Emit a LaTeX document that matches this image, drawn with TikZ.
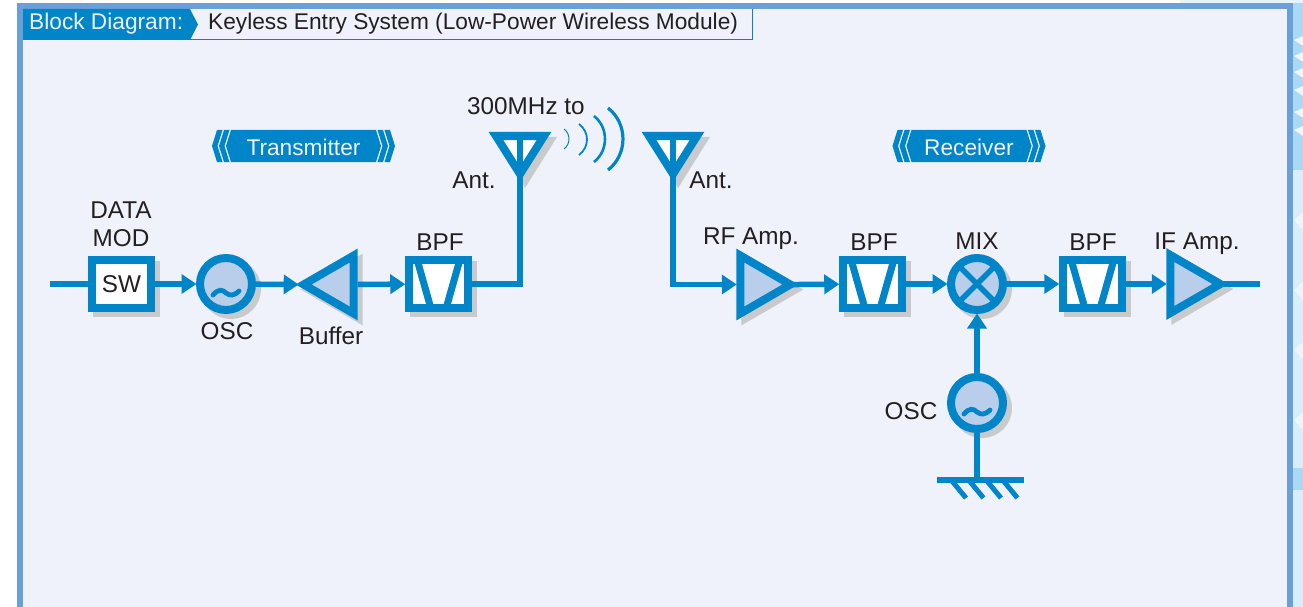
\documentclass[tikz,border=0pt]{standalone}
\usepackage{fontspec}
\setmainfont{Liberation Sans}
\usetikzlibrary{arrows.meta,positioning,calc,shapes.geometric,shadows}

\definecolor{wireblue}{HTML}{0085C8}
\definecolor{framecol}{HTML}{6AA0DA}
\definecolor{panelcol}{HTML}{EFF2FB}
\definecolor{fillcol}{HTML}{B8CEEB}
\definecolor{shadecol}{HTML}{C8CACC}
\definecolor{stripcol}{HTML}{A9D9F5}
\definecolor{inkcol}{HTML}{231F20}

\tikzset{
 lbl/.style={text=inkcol,font=\fontsize{24.3}{28}\selectfont,inner sep=0pt,align=center},
 headlbl/.style={lbl,font=\fontsize{22.7}{26.5}\selectfont},
 wire/.style={draw=wireblue,line width=5.5pt},
 feed/.style={wire,-{Triangle[length=15pt,width=19pt]},shorten >=-0.5pt},
 softshade/.style={general shadow={shadow xshift=5pt,shadow yshift=-5pt,fill=shadecol,draw=shadecol}},
 swbox/.style={draw=wireblue,line width=8pt,fill=white,rectangle,minimum width=59.5pt,minimum height=48.5pt,inner sep=0pt,softshade},
 bpfbox/.style={swbox,path picture={
   \draw[wireblue,line width=7pt,shift={(path picture bounding box.center)}]
    (-23,-30)--(-6,30) (23,-30)--(6,30);}},
 oscball/.style={circle,draw=wireblue,line width=8pt,fill=fillcol,minimum size=52pt,inner sep=0pt,softshade,path picture={
   \draw[wireblue,line width=4.8pt,line cap=round,shift={(path picture bounding box.center)}]
    (-13,11) .. controls (-7,4) and (-3,6) .. (0,9) .. controls (4,12) and (8,12) .. (13,7);}},
 mixball/.style={circle,draw=wireblue,line width=8pt,fill=fillcol,minimum size=52pt,inner sep=0pt,softshade,path picture={
   \draw[wireblue,line width=5.5pt,shift={(path picture bounding box.center)}]
    (-22,-22)--(22,22) (-22,22)--(22,-22);}},
 amp/.style={isosceles triangle,isosceles triangle apex angle=60,isosceles triangle stretches,draw=wireblue,line width=8pt,
   fill=fillcol,minimum width=58pt,minimum height=50pt,inner sep=0pt,miter limit=10,softshade},
 amprev/.style={amp,shape border rotate=180},
 ant/.style={draw=wireblue,line width=8pt,fill=white,miter limit=10},
 tag/.style={fill=wireblue,draw=none},
}

\begin{document}
\begin{tikzpicture}[x=1pt,y=-1pt]
\useasboundingbox (0,0) rectangle (1303,607);
% frame
\fill[stripcol!45] (1293,0) rectangle (1303,607);
\fill[stripcol] (1293,0) rectangle (1303,170);
\fill[stripcol] (1293,468) rectangle (1303,490);
\foreach \sy in {46,62,78,96,118,136}
 \fill[white,opacity=0.8] (1303,\sy) -- (1294,\sy-6) -- (1303,\sy-10) -- cycle;
\foreach \sy in {230,300,360,430}
 \fill[white,opacity=0.5] (1303,\sy) -- (1294,\sy-10) -- (1303,\sy-18) -- cycle;
\fill[stripcol!30] (1180,0) rectangle (1303,3);
\fill[framecol] (17,3) rectangle (1293,607);
\fill[panelcol] (23,9) rectangle (1287,607);
% title
\draw[wireblue,line width=1pt] (190,39.5) -- (752,39.5) -- (752,9);
\fill[wireblue] (23,9) -- (190,9) -- (198,24.5) -- (190,40) -- (23,40) -- cycle;
\node[headlbl,text=panelcol,anchor=base west] (hdr) at (29,30) {Block Diagram:};
\node[headlbl,anchor=base west] (title) at (208,30) {Keyless Entry System (Low-Power Wireless Module)};
% banners
\foreach \cx/\hw/\txt in {303.5/72.5/Transmitter,969/57.5/Receiver}{
 \fill[tag] (\cx-\hw,130) -- (\cx+\hw,130) -- (\cx+\hw+5,146) -- (\cx+\hw,162) -- (\cx-\hw,162) -- (\cx-\hw-5,146) -- cycle;
 \foreach \g in {1.5,8.5}{
  \fill[tag] (\cx+\hw+\g,130) -- (\cx+\hw+\g+5.5,130) -- (\cx+\hw+\g+10.5,146) -- (\cx+\hw+\g+5.5,162) -- (\cx+\hw+\g,162) -- (\cx+\hw+\g+5,146) -- cycle;
  \fill[tag] (\cx-\hw-\g,130) -- (\cx-\hw-\g-5.5,130) -- (\cx-\hw-\g-10.5,146) -- (\cx-\hw-\g-5.5,162) -- (\cx-\hw-\g,162) -- (\cx-\hw-\g-5,146) -- cycle;}
 \node[headlbl,text=panelcol] at (\cx,147.5) {\txt};
}
% label that the amplifier overlaps
\node[lbl] (lbif) at (1197,244) {IF Amp.};
% antenna shadows
\foreach \ax in {520,673}
 \fill[shadecol] (\ax-20,137) -- (\ax+37,137) -- (\ax+5,188) -- cycle;
% blocks
\coordinate (in) at (50,284);
\coordinate (out) at (1260,284);
\coordinate (gnd) at (977,480);
\coordinate (anttx) at (520,170);
\coordinate (antrx) at (673,170);
\node[swbox] (sw) at (121.5,284) {\textcolor{inkcol}{\fontsize{24.3}{28}\selectfont SW}};
\node[oscball] (osc) at (226,284) {};
\node[amprev] (buffer) at (337,284.5) {};
\node[bpfbox] (bpftx) at (438.5,284) {};
\node[amp] (rfamp) at (757,284.5) {};
\node[bpfbox] (bpfa) at (872.5,284) {};
\node[mixball] (mix) at (977,284) {};
\node[bpfbox] (bpfb) at (1092.5,284) {};
\node[amp] (ifamp) at (1187,284) {};
\node[oscball] (oscrx) at (977,403) {};
% connectors
\draw[wire] (in) -- (sw);
\draw[feed] (sw) -- (osc);
\draw[feed,shorten >=-3pt] (osc) -- (buffer.apex);
\draw[feed] (buffer) -- (bpftx);
\draw[wire] (bpftx) -| (anttx);
\draw[feed] (antrx) |- (rfamp.west);
\draw[feed,shorten <=-6pt] (rfamp.apex) -- (bpfa);
\draw[feed] (bpfa) -- (mix);
\draw[feed] (mix) -- (bpfb);
\draw[feed] (bpfb) -- (ifamp.west);
\draw[wire,shorten <=-6pt] (ifamp.apex) -- (out);
\draw[feed] (oscrx) -- (mix);
\draw[wire] (oscrx) -- (gnd);
% ground
\draw[wire] (937,480) -- (1024,480);
\foreach \gx in {952,969.5,987,1003.5}
 \draw[wireblue,line width=5pt] (\gx,481) -- (\gx+14,498);
% antennas
\foreach \ax in {520,673}{
 \draw[ant] (\ax-24,136) -- (\ax+24,136) -- (\ax,174) -- cycle;
 \draw[wireblue,line width=5.5pt] (\ax,136) -- (\ax,178);
}
% radio waves
\foreach \wa/\wb/\wd/\we/\lw in {564/129/5/149/1,579/124/8/155/1.8,594/116/11/162/2.6,608/108/15/170/3.2}
 \draw[wireblue,line width=\lw pt] (\wa,\wb) .. controls (\wa+1.33*\wd,\wb+0.25*\we-0.25*\wb) and (\wa+1.33*\wd,\we-0.25*\we+0.25*\wb) .. (\wa,\we);
% labels
\node[lbl] (lbdata) at (121,224) {DATA\\MOD};
\node[lbl] (lbosc) at (227,331) {OSC};
\node[lbl] (lbbuf) at (331,336) {Buffer};
\node[lbl] (lbbpf) at (440,242.5) {BPF};
\node[lbl,anchor=base west] (lbfreq) at (467,114) {300MHz to};
\node[lbl] (lbant) at (474,180) {Ant.};
\node[lbl] (lbantb) at (711,180) {Ant.};
\node[lbl] (lbrf) at (751,239) {RF Amp.};
\node[lbl] (lbbpfa) at (874,242.5) {BPF};
\node[lbl] (lbmix) at (977,241) {MIX};
\node[lbl] (lbbpfb) at (1093,242.5) {BPF};
\node[lbl] (lboscb) at (911,411) {OSC};
\end{tikzpicture}
\end{document}
